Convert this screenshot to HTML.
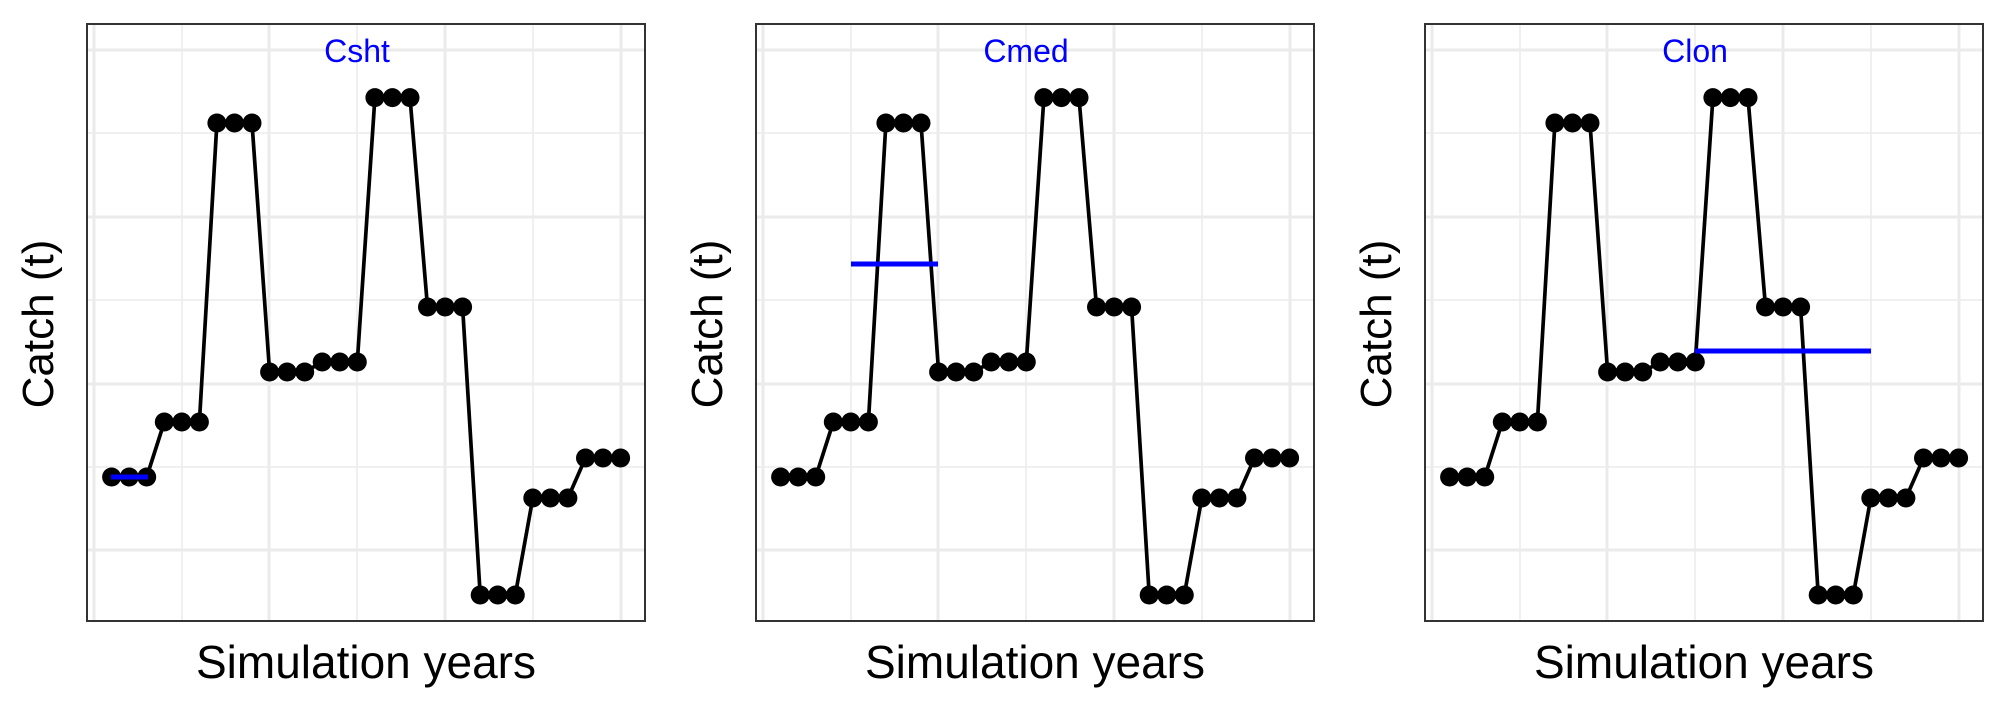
<!DOCTYPE html>
<html><head><meta charset="utf-8"><style>html,body{margin:0;padding:0;background:#fff}svg{display:block}</style></head>
<body>
<svg width="2007" height="708" viewBox="0 0 2007 708" xmlns="http://www.w3.org/2000/svg" font-family="Liberation Sans, Arial, sans-serif">
<defs>
<g id="panel">
  <rect x="87" y="24" width="558" height="597" fill="#fff"/>
  <g stroke="#ebebeb" stroke-width="1.5">
    <line x1="182" y1="24" x2="182" y2="621"/><line x1="357" y1="24" x2="357" y2="621"/><line x1="533" y1="24" x2="533" y2="621"/>
    <line x1="87" y1="133" x2="645" y2="133"/><line x1="87" y1="300" x2="645" y2="300"/><line x1="87" y1="467" x2="645" y2="467"/>
  </g>
  <g stroke="#ebebeb" stroke-width="3">
    <line x1="94" y1="24" x2="94" y2="621"/><line x1="269" y1="24" x2="269" y2="621"/><line x1="445" y1="24" x2="445" y2="621"/><line x1="621" y1="24" x2="621" y2="621"/>
    <line x1="87" y1="50" x2="645" y2="50"/><line x1="87" y1="217" x2="645" y2="217"/><line x1="87" y1="384" x2="645" y2="384"/><line x1="87" y1="550" x2="645" y2="550"/>
  </g>
  <polyline fill="none" stroke="#000" stroke-width="3.7" stroke-linejoin="round" points="111.6,477 129.2,477 146.7,477 164.3,422 181.8,422 199.4,422 216.9,123 234.5,123 252,123 269.6,372 287.1,372 304.7,372 322.2,362 339.8,362 357.3,362 374.9,97.6 392.4,97.6 410,97.6 427.5,307 445.1,307 462.6,307 480.2,595 497.7,595 515.3,595 532.8,498 550.4,498 567.9,498 585.5,458 603,458 620.6,458"/>
  <g fill="#000">
    <circle cx="111.6" cy="477" r="9.5"/><circle cx="129.2" cy="477" r="9.5"/><circle cx="146.7" cy="477" r="9.5"/>
    <circle cx="164.3" cy="422" r="9.5"/><circle cx="181.8" cy="422" r="9.5"/><circle cx="199.4" cy="422" r="9.5"/>
    <circle cx="216.9" cy="123" r="9.5"/><circle cx="234.5" cy="123" r="9.5"/><circle cx="252" cy="123" r="9.5"/>
    <circle cx="269.6" cy="372" r="9.5"/><circle cx="287.1" cy="372" r="9.5"/><circle cx="304.7" cy="372" r="9.5"/>
    <circle cx="322.2" cy="362" r="9.5"/><circle cx="339.8" cy="362" r="9.5"/><circle cx="357.3" cy="362" r="9.5"/>
    <circle cx="374.9" cy="97.6" r="9.5"/><circle cx="392.4" cy="97.6" r="9.5"/><circle cx="410" cy="97.6" r="9.5"/>
    <circle cx="427.5" cy="307" r="9.5"/><circle cx="445.1" cy="307" r="9.5"/><circle cx="462.6" cy="307" r="9.5"/>
    <circle cx="480.2" cy="595" r="9.5"/><circle cx="497.7" cy="595" r="9.5"/><circle cx="515.3" cy="595" r="9.5"/>
    <circle cx="532.8" cy="498" r="9.5"/><circle cx="550.4" cy="498" r="9.5"/><circle cx="567.9" cy="498" r="9.5"/>
    <circle cx="585.5" cy="458" r="9.5"/><circle cx="603" cy="458" r="9.5"/><circle cx="620.6" cy="458" r="9.5"/>
  </g>
  <rect x="87" y="24" width="558" height="597" fill="none" stroke="#333" stroke-width="2"/>
  <text x="366" y="678" font-size="46" text-anchor="middle" fill="#000">Simulation years</text>
  <text transform="translate(53,324) rotate(-90)" font-size="44" text-anchor="middle" fill="#000">Catch (t)</text>
</g>
</defs>
<use href="#panel"/>
<line x1="111" y1="477" x2="148" y2="477" stroke="#00f" stroke-width="5"/>
<text x="357" y="62" font-size="32" text-anchor="middle" fill="#00f">Csht</text>
<g transform="translate(669,0)">
  <use href="#panel"/>
  <line x1="182" y1="264" x2="269" y2="264" stroke="#00f" stroke-width="5"/>
  <text x="357" y="62" font-size="32" text-anchor="middle" fill="#00f">Cmed</text>
</g>
<g transform="translate(1338,0)">
  <use href="#panel"/>
  <line x1="357" y1="351" x2="533" y2="351" stroke="#00f" stroke-width="5"/>
  <text x="357" y="62" font-size="32" text-anchor="middle" fill="#00f">Clon</text>
</g>
</svg>
</body></html>
